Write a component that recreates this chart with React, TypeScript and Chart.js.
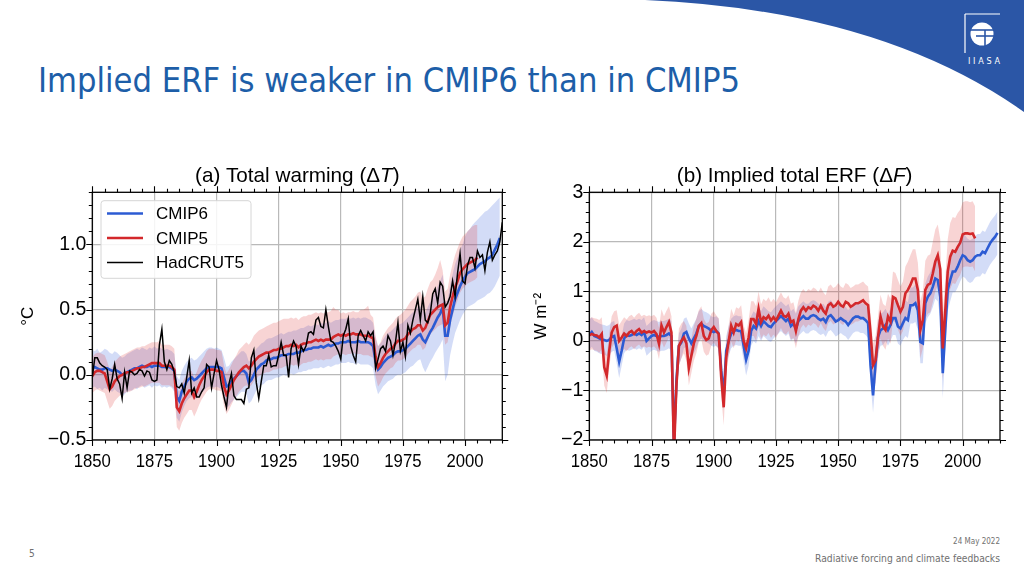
import React, { useEffect, useRef } from "react";
import { Chart, registerables } from "chart.js";

Chart.register(...registerables);

const FONT = "'Liberation Sans', Arial, sans-serif";
Chart.defaults.font.family = FONT;

const FIRST_YEAR = 1850;
const X_MIN = 1850;
const X_MAX = 2015;

// ---------- Panel (a): total warming, °C ----------
const T_CMIP6 = [
  0.05, 0.06, 0.05, 0.04, 0.04, 0.05, 0.05, 0.04, 0.03, 0.04,
  0.03, 0.02, 0.00, 0.01, 0.02, 0.03, 0.04, 0.05, 0.05, 0.06,
  0.07, 0.06, 0.06, 0.07, 0.06, 0.07, 0.07, 0.07, 0.06, 0.06,
  0.06, 0.06, 0.05, 0.03, -0.17, -0.20, -0.13, -0.09, -0.05, -0.03,
  -0.02, -0.04, -0.03, -0.01, 0.01, 0.03, 0.05, 0.06, 0.06, 0.06,
  0.06, 0.06, 0.05, -0.02, -0.09, -0.08, -0.05, -0.03, -0.01, 0.01,
  0.03, 0.03, 0.01, -0.06, -0.04, 0.00, 0.04, 0.06, 0.08, 0.09,
  0.11, 0.12, 0.12, 0.13, 0.13, 0.14, 0.15, 0.15, 0.15, 0.16,
  0.16, 0.16, 0.17, 0.17, 0.18, 0.19, 0.19, 0.20, 0.20, 0.21,
  0.21, 0.21, 0.22, 0.21, 0.22, 0.23, 0.22, 0.23, 0.24, 0.24,
  0.25, 0.25, 0.25, 0.26, 0.25, 0.25, 0.25, 0.26, 0.25, 0.25,
  0.25, 0.25, 0.24, 0.22, 0.10, 0.04, 0.06, 0.09, 0.11, 0.13,
  0.14, 0.15, 0.17, 0.18, 0.18, 0.19, 0.20, 0.22, 0.24, 0.26,
  0.28, 0.30, 0.31, 0.27, 0.25, 0.29, 0.33, 0.36, 0.40, 0.44,
  0.47, 0.52, 0.30, 0.30, 0.42, 0.50, 0.58, 0.63, 0.68, 0.72,
  0.75, 0.78, 0.79, 0.80, 0.81, 0.83, 0.85, 0.86, 0.87, 0.89,
  0.90, 0.92, 0.96, 1.00, 1.05,
];
const T_CMIP6_LO = [
  -0.10, -0.09, -0.11, -0.10, -0.12, -0.10, -0.11, -0.12, -0.13, -0.11,
  -0.13, -0.14, -0.17, -0.15, -0.13, -0.12, -0.12, -0.10, -0.11, -0.09,
  -0.08, -0.10, -0.09, -0.08, -0.10, -0.08, -0.09, -0.08, -0.10, -0.09,
  -0.10, -0.09, -0.10, -0.13, -0.33, -0.36, -0.29, -0.24, -0.20, -0.18,
  -0.17, -0.19, -0.18, -0.16, -0.14, -0.12, -0.10, -0.09, -0.09, -0.10,
  -0.09, -0.10, -0.11, -0.18, -0.25, -0.24, -0.21, -0.19, -0.17, -0.15,
  -0.13, -0.13, -0.15, -0.22, -0.20, -0.16, -0.12, -0.10, -0.08, -0.07,
  -0.05, -0.04, -0.04, -0.03, -0.02, -0.02, -0.01, 0.00, -0.01, 0.00,
  0.01, 0.00, 0.01, 0.02, 0.02, 0.03, 0.03, 0.04, 0.04, 0.05,
  0.05, 0.05, 0.06, 0.05, 0.06, 0.07, 0.06, 0.07, 0.08, 0.08,
  0.09, 0.09, 0.09, 0.10, 0.09, 0.09, 0.08, 0.09, 0.08, 0.08,
  0.08, 0.08, 0.07, 0.05, -0.08, -0.15, -0.12, -0.09, -0.07, -0.05,
  -0.04, -0.03, -0.01, 0.00, 0.00, 0.01, 0.02, 0.04, 0.06, 0.07,
  0.09, 0.11, 0.12, 0.06, 0.02, 0.06, 0.10, 0.13, 0.17, 0.20,
  0.23, 0.27, -0.05, 0.00, 0.15, 0.24, 0.32, 0.37, 0.42, 0.46,
  0.49, 0.52, 0.53, 0.54, 0.55, 0.57, 0.58, 0.59, 0.60, 0.62,
  0.63, 0.65, 0.68, 0.72, 0.76,
];
const T_CMIP6_HI = [
  0.19, 0.18, 0.20, 0.17, 0.18, 0.20, 0.19, 0.17, 0.16, 0.18,
  0.17, 0.15, 0.13, 0.14, 0.16, 0.17, 0.18, 0.19, 0.20, 0.19,
  0.21, 0.20, 0.19, 0.21, 0.20, 0.22, 0.20, 0.21, 0.20, 0.19,
  0.20, 0.19, 0.18, 0.16, -0.01, -0.04, 0.03, 0.07, 0.10, 0.12,
  0.13, 0.11, 0.12, 0.14, 0.16, 0.18, 0.20, 0.21, 0.21, 0.20,
  0.21, 0.20, 0.19, 0.13, 0.06, 0.07, 0.10, 0.12, 0.14, 0.16,
  0.18, 0.18, 0.16, 0.10, 0.12, 0.16, 0.20, 0.22, 0.24, 0.25,
  0.27, 0.28, 0.28, 0.29, 0.30, 0.31, 0.32, 0.31, 0.32, 0.33,
  0.33, 0.34, 0.34, 0.35, 0.36, 0.36, 0.37, 0.38, 0.37, 0.38,
  0.39, 0.38, 0.40, 0.39, 0.40, 0.41, 0.40, 0.41, 0.42, 0.42,
  0.43, 0.43, 0.43, 0.44, 0.43, 0.44, 0.43, 0.44, 0.43, 0.44,
  0.44, 0.43, 0.42, 0.40, 0.28, 0.22, 0.24, 0.27, 0.30, 0.32,
  0.33, 0.35, 0.37, 0.38, 0.39, 0.40, 0.42, 0.44, 0.46, 0.48,
  0.50, 0.52, 0.53, 0.49, 0.47, 0.52, 0.56, 0.60, 0.64, 0.68,
  0.72, 0.77, 0.56, 0.57, 0.69, 0.77, 0.85, 0.90, 0.96, 1.00,
  1.06, 1.10, 1.12, 1.15, 1.17, 1.19, 1.21, 1.23, 1.25, 1.26,
  1.28, 1.30, 1.32, 1.34, 1.36,
];
const T_CMIP5 = [
  -0.01, 0.02, 0.03, 0.03, 0.02, 0.01, -0.05, -0.11, -0.09, -0.05,
  -0.03, -0.01, 0.00, 0.01, 0.02, 0.02, 0.03, 0.04, 0.05, 0.05,
  0.06, 0.06, 0.07, 0.08, 0.09, 0.09, 0.09, 0.09, 0.07, 0.07,
  0.07, 0.07, 0.06, 0.04, -0.25, -0.28, -0.22, -0.18, -0.15, -0.12,
  -0.12, -0.17, -0.13, -0.08, -0.04, -0.01, 0.02, 0.04, 0.04, 0.04,
  0.03, 0.03, 0.02, -0.09, -0.15, -0.12, -0.08, -0.04, -0.01, 0.02,
  0.04, 0.06, 0.07, 0.05, 0.07, 0.10, 0.12, 0.14, 0.15, 0.16,
  0.17, 0.17, 0.18, 0.19, 0.19, 0.20, 0.20, 0.21, 0.22, 0.22,
  0.23, 0.22, 0.23, 0.21, 0.23, 0.24, 0.24, 0.25, 0.25, 0.26,
  0.27, 0.26, 0.27, 0.26, 0.27, 0.27, 0.27, 0.29, 0.30, 0.31,
  0.30, 0.31, 0.30, 0.31, 0.31, 0.32, 0.31, 0.31, 0.31, 0.30,
  0.30, 0.30, 0.29, 0.28, 0.14, 0.06, 0.09, 0.13, 0.16, 0.18,
  0.20, 0.21, 0.24, 0.26, 0.26, 0.27, 0.28, 0.31, 0.33, 0.35,
  0.36, 0.38, 0.38, 0.34, 0.36, 0.41, 0.46, 0.48, 0.50, 0.52,
  0.53, 0.54, 0.38, 0.40, 0.52, 0.60, 0.67, 0.72, 0.78, 0.81,
  0.83, 0.85, 0.86, 0.87, 0.88, 0.90,
];
const T_CMIP5_LO = [
  -0.14, -0.12, -0.11, -0.12, -0.13, -0.14, -0.20, -0.26, -0.24, -0.20,
  -0.18, -0.16, -0.15, -0.14, -0.13, -0.13, -0.12, -0.11, -0.10, -0.10,
  -0.09, -0.09, -0.08, -0.07, -0.06, -0.06, -0.06, -0.06, -0.08, -0.08,
  -0.08, -0.08, -0.09, -0.11, -0.40, -0.43, -0.37, -0.33, -0.30, -0.27,
  -0.27, -0.32, -0.28, -0.23, -0.19, -0.16, -0.13, -0.11, -0.11, -0.11,
  -0.12, -0.12, -0.13, -0.24, -0.30, -0.27, -0.23, -0.19, -0.16, -0.13,
  -0.11, -0.09, -0.08, -0.10, -0.08, -0.05, -0.03, -0.01, 0.00, 0.01,
  0.02, 0.02, 0.03, 0.04, 0.04, 0.05, 0.05, 0.06, 0.07, 0.07,
  0.08, 0.07, 0.08, 0.06, 0.08, 0.09, 0.09, 0.10, 0.10, 0.11,
  0.12, 0.11, 0.12, 0.11, 0.12, 0.12, 0.12, 0.14, 0.15, 0.16,
  0.15, 0.16, 0.15, 0.16, 0.16, 0.17, 0.16, 0.16, 0.16, 0.15,
  0.15, 0.15, 0.14, 0.13, -0.01, -0.09, -0.06, -0.02, 0.01, 0.03,
  0.05, 0.06, 0.09, 0.11, 0.11, 0.12, 0.13, 0.16, 0.18, 0.20,
  0.21, 0.23, 0.23, 0.19, 0.21, 0.26, 0.31, 0.33, 0.35, 0.37,
  0.38, 0.39, 0.23, 0.25, 0.37, 0.45, 0.52, 0.57, 0.63, 0.66,
  0.68, 0.70, 0.71, 0.72, 0.73, 0.75,
];
const T_CMIP5_HI = [
  0.13, 0.16, 0.17, 0.17, 0.16, 0.15, 0.10, 0.04, 0.06, 0.10,
  0.12, 0.14, 0.15, 0.16, 0.17, 0.18, 0.19, 0.20, 0.21, 0.21,
  0.22, 0.22, 0.23, 0.24, 0.25, 0.25, 0.25, 0.26, 0.23, 0.23,
  0.23, 0.23, 0.22, 0.20, -0.10, -0.13, -0.07, -0.03, 0.00, 0.03,
  0.03, -0.02, 0.02, 0.07, 0.11, 0.14, 0.18, 0.20, 0.20, 0.20,
  0.19, 0.19, 0.18, 0.07, 0.01, 0.04, 0.08, 0.12, 0.15, 0.19,
  0.21, 0.23, 0.25, 0.23, 0.26, 0.30, 0.32, 0.34, 0.35, 0.36,
  0.37, 0.38, 0.39, 0.40, 0.40, 0.41, 0.42, 0.43, 0.43, 0.43,
  0.44, 0.43, 0.44, 0.42, 0.44, 0.45, 0.45, 0.46, 0.46, 0.47,
  0.48, 0.47, 0.48, 0.47, 0.48, 0.48, 0.49, 0.52, 0.50, 0.50,
  0.47, 0.48, 0.47, 0.48, 0.48, 0.49, 0.48, 0.48, 0.50, 0.50,
  0.51, 0.53, 0.46, 0.44, 0.30, 0.22, 0.25, 0.30, 0.33, 0.36,
  0.38, 0.40, 0.43, 0.45, 0.46, 0.48, 0.50, 0.53, 0.56, 0.58,
  0.60, 0.63, 0.64, 0.59, 0.60, 0.66, 0.71, 0.73, 0.77, 0.82,
  0.88, 0.80, 0.64, 0.66, 0.77, 0.85, 0.92, 0.97, 1.02, 1.06,
  1.08, 1.10, 1.12, 1.14, 1.15, 1.15,
];
const T_HADCRUT5 = [
  -0.02, 0.13, 0.13, 0.09, 0.07, 0.06, 0.04, -0.11, -0.03, 0.08,
  -0.03, -0.07, -0.18, 0.02, -0.10, 0.03, 0.02, 0.00, 0.01, 0.04,
  0.03, -0.01, 0.03, 0.02, -0.04, -0.05, -0.04, 0.23, 0.35, 0.10,
  0.04, 0.11, 0.08, 0.02, -0.09, -0.10, -0.07, -0.14, -0.02, 0.11,
  -0.14, -0.10, -0.17, -0.17, -0.13, -0.10, 0.08, 0.06, -0.10, 0.01,
  0.11, 0.04, -0.08, -0.17, -0.25, -0.07, 0.01, -0.16, -0.19, -0.19,
  -0.19, -0.22, -0.11, -0.10, 0.13, 0.19, -0.06, -0.18, -0.05, 0.07,
  0.07, 0.15, 0.06, 0.07, 0.07, 0.15, 0.25, 0.15, 0.15, -0.02,
  0.20, 0.26, 0.22, 0.08, 0.22, 0.18, 0.22, 0.32, 0.33, 0.31,
  0.42, 0.44, 0.37, 0.36, 0.50, 0.37, 0.26, 0.25, 0.22, 0.18,
  0.12, 0.30, 0.35, 0.43, 0.22, 0.15, 0.10, 0.30, 0.34, 0.30,
  0.26, 0.33, 0.30, 0.33, 0.05, 0.12, 0.20, 0.22, 0.18, 0.30,
  0.26, 0.15, 0.25, 0.40, 0.18, 0.25, 0.14, 0.38, 0.32, 0.42,
  0.50, 0.58, 0.42, 0.60, 0.42, 0.40, 0.47, 0.62, 0.66, 0.55,
  0.71, 0.68, 0.52, 0.55, 0.60, 0.72, 0.60, 0.78, 0.93, 0.72,
  0.70, 0.84, 0.90, 0.90, 0.82, 0.95, 0.90, 0.92, 0.80, 0.94,
  1.02, 0.88, 0.92, 0.95, 1.02, 1.17,
];

// ---------- Panel (b): implied total ERF, W m-2 ----------
const F_CMIP6 = [
  0.12, 0.18, 0.10, 0.08, 0.05, 0.03, 0.02, 0.00, 0.02, 0.08,
  0.10, -0.15, -0.42, -0.20, 0.05, 0.12, 0.10, 0.12, 0.15, 0.12,
  0.15, 0.12, 0.18, 0.00, 0.05, 0.10, 0.12, 0.10, 0.08, 0.10,
  0.10, 0.12, 0.15, 0.10, -2.10, -0.80, -0.10, -0.03, 0.15, 0.18,
  0.05, -0.05, 0.05, 0.15, 0.30, 0.35, 0.30, 0.28, 0.25, 0.20,
  0.18, 0.20, 0.15, -0.60, -1.10, -0.20, 0.00, 0.15, 0.20, 0.22,
  0.20, 0.20, -0.10, -0.38, -0.20, 0.20, 0.30, 0.25, 0.40, 0.30,
  0.40, 0.35, 0.30, 0.28, 0.35, 0.40, 0.45, 0.50, 0.45, 0.40,
  0.45, 0.30, 0.35, 0.25, 0.40, 0.45, 0.50, 0.45, 0.45, 0.50,
  0.52, 0.50, 0.45, 0.42, 0.45, 0.38, 0.49, 0.52, 0.46, 0.39,
  0.42, 0.46, 0.42, 0.39, 0.32, 0.39, 0.46, 0.49, 0.49, 0.46,
  0.46, 0.42, 0.36, -0.50, -1.10, -0.45, 0.08, 0.22, 0.25, 0.32,
  0.22, 0.32, 0.46, 0.46, 0.29, 0.25, 0.36, 0.46, 0.42, 0.72,
  0.72, 0.76, 0.62, -0.02, -0.05, 0.76, 0.89, 0.96, 1.09, 1.26,
  1.23, 0.89, -0.65, 0.22, 1.03, 1.23, 1.40, 1.40, 1.50, 1.63,
  1.73, 1.70, 1.63, 1.60, 1.63, 1.70, 1.73, 1.73, 1.80, 1.77,
  1.87, 1.97, 2.04, 2.10, 2.18,
];
const F_CMIP6_LO = [
  -0.18, -0.12, -0.20, -0.22, -0.25, -0.27, -0.28, -0.30, -0.28, -0.22,
  -0.20, -0.45, -0.75, -0.50, -0.25, -0.18, -0.20, -0.18, -0.15, -0.18,
  -0.15, -0.18, -0.12, -0.30, -0.25, -0.20, -0.18, -0.20, -0.22, -0.20,
  -0.20, -0.18, -0.15, -0.20, -2.50, -1.30, -0.50, -0.35, -0.15, -0.12,
  -0.25, -0.35, -0.25, -0.15, 0.00, 0.05, 0.00, -0.02, -0.05, -0.10,
  -0.12, -0.10, -0.15, -0.90, -1.40, -0.50, -0.30, -0.15, -0.10, -0.08,
  -0.10, -0.10, -0.40, -0.70, -0.50, -0.10, 0.00, -0.05, 0.10, 0.00,
  0.10, 0.05, 0.00, -0.02, 0.05, 0.10, 0.15, 0.20, 0.15, 0.10,
  0.15, 0.00, 0.05, -0.05, 0.10, 0.15, 0.20, 0.15, 0.15, 0.20,
  0.22, 0.20, 0.15, 0.12, 0.15, 0.08, 0.19, 0.22, 0.16, 0.09,
  0.12, 0.16, 0.12, 0.09, 0.02, 0.09, 0.16, 0.19, 0.19, 0.16,
  0.16, 0.12, 0.06, -0.85, -1.45, -0.80, -0.25, -0.10, -0.08, 0.00,
  -0.10, 0.00, 0.12, 0.12, -0.05, -0.10, 0.02, 0.10, 0.06, 0.35,
  0.35, 0.38, 0.22, -0.45, -0.45, 0.35, 0.48, 0.55, 0.68, 0.85,
  0.80, 0.45, -1.15, -0.25, 0.60, 0.80, 0.98, 0.98, 1.08, 1.20,
  1.30, 1.27, 1.20, 1.17, 1.20, 1.28, 1.30, 1.30, 1.37, 1.34,
  1.44, 1.54, 1.61, 1.67, 1.75,
];
const F_CMIP6_HI = [
  0.42, 0.48, 0.40, 0.38, 0.35, 0.33, 0.32, 0.30, 0.32, 0.38,
  0.40, 0.15, -0.10, 0.10, 0.35, 0.42, 0.40, 0.42, 0.45, 0.42,
  0.45, 0.42, 0.48, 0.30, 0.35, 0.40, 0.42, 0.40, 0.38, 0.40,
  0.40, 0.42, 0.45, 0.40, -1.60, -0.35, 0.15, 0.25, 0.45, 0.48,
  0.35, 0.25, 0.35, 0.45, 0.60, 0.65, 0.60, 0.58, 0.55, 0.50,
  0.48, 0.50, 0.45, -0.30, -0.80, 0.10, 0.30, 0.45, 0.50, 0.52,
  0.50, 0.50, 0.20, -0.08, 0.10, 0.50, 0.60, 0.55, 0.70, 0.60,
  0.70, 0.65, 0.60, 0.58, 0.65, 0.70, 0.75, 0.80, 0.75, 0.70,
  0.75, 0.60, 0.65, 0.55, 0.70, 0.75, 0.80, 0.75, 0.75, 0.80,
  0.82, 0.80, 0.75, 0.72, 0.75, 0.68, 0.79, 0.82, 0.76, 0.69,
  0.72, 0.76, 0.72, 0.69, 0.62, 0.69, 0.76, 0.79, 0.79, 0.76,
  0.76, 0.72, 0.66, -0.15, -0.70, -0.10, 0.40, 0.55, 0.58, 0.65,
  0.55, 0.65, 0.80, 0.80, 0.62, 0.58, 0.70, 0.82, 0.78, 1.08,
  1.08, 1.14, 1.00, 0.40, 0.35, 1.16, 1.30, 1.38, 1.52, 1.68,
  1.66, 1.33, -0.15, 0.70, 1.46, 1.66, 1.82, 1.82, 1.92, 2.06,
  2.16, 2.13, 2.06, 2.03, 2.06, 2.12, 2.16, 2.16, 2.23, 2.20,
  2.30, 2.40, 2.47, 2.53, 2.61,
];
const F_CMIP5 = [
  0.11, 0.14, 0.12, 0.11, 0.07, 0.14, -0.53, -0.70, -0.20, 0.17,
  0.28, 0.31, 0.00, 0.07, 0.15, 0.10, 0.17, 0.20, 0.14, 0.20,
  0.24, 0.17, 0.20, 0.17, 0.19, 0.17, 0.20, 0.14, -0.06, 0.31,
  0.17, 0.28, 0.38, 0.17, -2.30, -0.90, -0.10, 0.00, 0.07, -0.05,
  -0.55, -0.30, -0.05, 0.10, 0.30, 0.36, 0.10, 0.02, 0.05, 0.22,
  0.28, 0.20, 0.14, -0.73, -1.34, -0.33, 0.00, 0.31, 0.17, 0.34,
  0.31, 0.38, 0.00, -0.15, 0.07, 0.44, 0.44, 0.34, 0.65, 0.38,
  0.48, 0.44, 0.51, 0.41, 0.48, 0.41, 0.51, 0.61, 0.51, 0.48,
  0.55, 0.38, 0.41, 0.20, 0.44, 0.61, 0.68, 0.61, 0.68, 0.65,
  0.71, 0.68, 0.61, 0.71, 0.61, 0.55, 0.72, 0.76, 0.69, 0.72,
  0.79, 0.72, 0.69, 0.79, 0.76, 0.69, 0.72, 0.76, 0.76, 0.79,
  0.82, 0.76, 0.72, 0.15, -0.49, -0.39, 0.08, 0.49, 0.29, 0.22,
  0.49, 0.39, 0.89, 0.86, 0.72, 0.59, 0.69, 0.96, 1.03, 1.13,
  1.26, 1.26, 1.03, 0.22, 0.42, 1.03, 1.13, 1.16, 1.36, 1.60,
  1.73, 1.45, -0.15, 0.60, 1.40, 1.70, 1.82, 1.80, 1.90, 1.98,
  2.15, 2.17, 2.17, 2.16, 2.17, 2.07,
];
const F_CMIP5_LO = [
  -0.20, -0.17, -0.19, -0.20, -0.24, -0.17, -0.90, -1.05, -0.55, -0.15,
  -0.05, -0.02, -0.30, -0.24, -0.16, -0.21, -0.14, -0.11, -0.17, -0.11,
  -0.07, -0.14, -0.11, -0.14, -0.12, -0.14, -0.11, -0.17, -0.37, 0.00,
  -0.14, -0.03, 0.07, -0.14, -2.80, -1.40, -0.50, -0.35, -0.25, -0.40,
  -0.90, -0.65, -0.40, -0.25, -0.02, 0.03, -0.22, -0.30, -0.27, -0.10,
  -0.03, -0.11, -0.17, -1.10, -1.70, -0.65, -0.32, -0.01, -0.15, 0.02,
  -0.01, 0.06, -0.30, -0.45, -0.25, 0.10, 0.10, 0.00, 0.30, 0.04,
  0.13, 0.09, 0.16, 0.06, 0.13, 0.06, 0.16, 0.26, 0.16, 0.13,
  0.20, 0.03, 0.06, -0.15, 0.09, 0.26, 0.33, 0.26, 0.33, 0.30,
  0.36, 0.33, 0.26, 0.36, 0.26, 0.20, 0.36, 0.40, 0.33, 0.36,
  0.42, 0.35, 0.32, 0.42, 0.39, 0.32, 0.35, 0.39, 0.39, 0.42,
  0.45, 0.39, 0.35, -0.25, -0.95, -0.85, -0.35, 0.05, -0.10, -0.18,
  0.05, -0.05, 0.40, 0.37, 0.23, 0.10, 0.20, 0.45, 0.50, 0.60,
  0.72, 0.72, 0.50, -0.35, -0.15, 0.45, 0.55, 0.58, 0.78, 1.00,
  1.12, 0.85, -0.80, -0.05, 0.75, 1.05, 1.17, 1.15, 1.25, 1.33,
  1.48, 1.50, 1.50, 1.49, 1.50, 1.40,
];
const F_CMIP5_HI = [
  0.45, 0.48, 0.46, 0.45, 0.42, 0.48, -0.15, -0.30, 0.15, 0.50,
  0.60, 0.62, 0.32, 0.40, 0.48, 0.43, 0.50, 0.53, 0.47, 0.53,
  0.57, 0.50, 0.53, 0.50, 0.52, 0.50, 0.53, 0.47, 0.27, 0.64,
  0.50, 0.61, 0.70, 0.50, -1.80, -0.45, 0.25, 0.35, 0.40, 0.30,
  -0.20, 0.05, 0.30, 0.45, 0.62, 0.70, 0.45, 0.35, 0.38, 0.55,
  0.60, 0.52, 0.46, -0.40, -0.95, 0.00, 0.32, 0.65, 0.52, 0.68,
  0.65, 0.72, 0.32, 0.15, 0.42, 0.80, 0.80, 0.70, 1.00, 0.74,
  0.85, 0.80, 0.88, 0.78, 0.85, 0.78, 0.88, 0.98, 0.88, 0.85,
  0.92, 0.75, 0.78, 0.57, 0.81, 0.98, 1.05, 0.98, 1.05, 1.02,
  1.08, 1.05, 0.98, 1.08, 0.98, 0.92, 1.10, 1.14, 1.07, 1.10,
  1.17, 1.10, 1.07, 1.17, 1.14, 1.07, 1.10, 1.14, 1.14, 1.17,
  1.20, 1.14, 1.10, 0.55, -0.05, 0.10, 0.50, 0.93, 0.75, 0.70,
  0.95, 0.85, 1.40, 1.37, 1.23, 1.10, 1.20, 1.50, 1.60, 1.73,
  1.85, 1.85, 1.58, 0.80, 1.00, 1.62, 1.72, 1.75, 2.00, 2.25,
  2.35, 2.05, 0.50, 1.25, 2.05, 2.38, 2.50, 2.48, 2.58, 2.65,
  2.80, 2.82, 2.82, 2.80, 2.82, 2.72,
];

const LEGEND_ORDER = ["CMIP6", "CMIP5", "HadCRUT5"];

const BLUE = "#2c5bd3";
const RED = "#d3282b";
const BLUE_BAND = "rgba(70,110,220,0.24)";
const RED_BAND = "rgba(222,60,60,0.22)";
const GRID = "#b9b9b9";

const pts = (vals: number[]) => vals.map((v, i) => ({ x: FIRST_YEAR + i, y: v }));

const lineDs = (label: string, vals: number[], color: string, width: number) => ({
  label,
  data: pts(vals),
  borderColor: color,
  borderWidth: width,
  pointRadius: 0,
  fill: false,
  tension: 0,
});
const bandDs = (vals: number[], color: string, fill: any) => ({
  label: "",
  data: pts(vals),
  borderColor: "rgba(0,0,0,0)",
  borderWidth: 1,
  pointRadius: 0,
  backgroundColor: color,
  fill,
  tension: 0,
});

const minus = (s: string) => s.replace("-", "\u2212");

const axesDecor = {
  id: "axesDecor",
  afterDraw(chart: any, _args: any, opts: any) {
    const ctx = chart.ctx as CanvasRenderingContext2D;
    const { left, right, top, bottom } = chart.chartArea;
    const xs = chart.scales.x;
    const ys = chart.scales.y;
    ctx.save();
    ctx.strokeStyle = "#000";
    ctx.lineWidth = 1.1;
    ctx.beginPath();
    const nx = Math.round((X_MAX - X_MIN) / opts.xMinor);
    for (let k = 0; k <= nx; k++) {
      const v = X_MIN + k * opts.xMinor;
      const r = (v - X_MIN) / opts.xMajor;
      const len = Math.abs(r - Math.round(r)) < 1e-6 ? 6 : 3.5;
      const px = Math.round(xs.getPixelForValue(v)) + 0.5;
      ctx.moveTo(px, bottom);
      ctx.lineTo(px, bottom + len);
      ctx.moveTo(px, top);
      ctx.lineTo(px, top - len);
    }
    const ny = Math.round((opts.yMax - opts.yMin) / opts.yMinor);
    for (let k = 0; k <= ny; k++) {
      const v = opts.yMin + k * opts.yMinor;
      const r = v / opts.yMajor;
      const len = Math.abs(r - Math.round(r)) < 1e-6 ? 6 : 3.5;
      const py = Math.round(ys.getPixelForValue(v)) + 0.5;
      ctx.moveTo(left, py);
      ctx.lineTo(left - len, py);
      ctx.moveTo(right, py);
      ctx.lineTo(right + len, py);
    }
    ctx.stroke();
    ctx.lineWidth = 1.3;
    ctx.strokeRect(left, top, right - left, bottom - top);

    // x tick labels, taken from the scale's own ticks (slightly condensed, as in the reference)
    ctx.fillStyle = "#000";
    ctx.textAlign = "center";
    ctx.textBaseline = "alphabetic";
    ctx.font = `19px ${FONT}`;
    for (const t of xs.ticks) {
      const px = xs.getPixelForValue(t.value);
      ctx.save();
      ctx.translate(px, bottom + 26.5);
      ctx.scale(0.88, 1);
      ctx.fillText(String(t.value), 0, 0);
      ctx.restore();
    }

    // title with italic part
    const size = 21;
    const parts = opts.title as { text: string; italic?: boolean }[];
    const fontOf = (p: any) => `${p.italic ? "italic " : ""}${size}px ${FONT}`;
    let total = 0;
    for (const p of parts) {
      ctx.font = fontOf(p);
      total += ctx.measureText(p.text).width;
    }
    let x = -total / 2;
    ctx.save();
    ctx.translate((left + right) / 2, top - 10.5);
    ctx.scale(0.985, 1);
    ctx.textAlign = "left";
    for (const p of parts) {
      ctx.font = fontOf(p);
      ctx.fillText(p.text, x, 0);
      x += ctx.measureText(p.text).width;
    }
    ctx.restore();

    if (opts.legend) {
      const bx = left + 8.7;
      const by = top + 8.4;
      const bw = 150;
      const bh = 77.6;
      ctx.beginPath();
      const rr = 3;
      ctx.moveTo(bx + rr, by);
      ctx.arcTo(bx + bw, by, bx + bw, by + bh, rr);
      ctx.arcTo(bx + bw, by + bh, bx, by + bh, rr);
      ctx.arcTo(bx, by + bh, bx, by, rr);
      ctx.arcTo(bx, by, bx + bw, by, rr);
      ctx.closePath();
      ctx.fillStyle = "rgba(255,255,255,0.85)";
      ctx.fill();
      ctx.strokeStyle = "#d6d6d6";
      ctx.lineWidth = 1;
      ctx.stroke();
      ctx.font = `17px ${FONT}`;
      ctx.textBaseline = "middle";
      ctx.textAlign = "left";
      LEGEND_ORDER.forEach((name, i) => {
        const ds = chart.data.datasets.find((d: any) => d.label === name);
        if (!ds) return;
        const cy = by + 12.8 + i * 24.5;
        ctx.strokeStyle = ds.borderColor;
        ctx.lineWidth = ds.borderWidth;
        ctx.beginPath();
        ctx.moveTo(bx + 6, cy);
        ctx.lineTo(bx + 42, cy);
        ctx.stroke();
        ctx.fillStyle = "#000";
        ctx.fillText(name, bx + 55, cy + 1);
      });
    }
    ctx.restore();
  },
};

function makeConfig(kind: "a" | "b"): any {
  const isA = kind === "a";
  const datasets: any[] = [];
  if (isA) datasets.push(lineDs("HadCRUT5", T_HADCRUT5, "#000", 1.5));
  datasets.push(lineDs("CMIP5", isA ? T_CMIP5 : F_CMIP5, RED, 2.6));
  datasets.push(lineDs("CMIP6", isA ? T_CMIP6 : F_CMIP6, BLUE, 2.6));
  datasets.push(bandDs(isA ? T_CMIP5_HI : F_CMIP5_HI, RED_BAND, "+1"));
  datasets.push(bandDs(isA ? T_CMIP5_LO : F_CMIP5_LO, "rgba(0,0,0,0)", false));
  datasets.push(bandDs(isA ? T_CMIP6_HI : F_CMIP6_HI, BLUE_BAND, "+1"));
  datasets.push(bandDs(isA ? T_CMIP6_LO : F_CMIP6_LO, "rgba(0,0,0,0)", false));

  const yMin = isA ? -0.5 : -2;
  const yMax = isA ? 1.4 : 3;
  const yMajor = isA ? 0.5 : 1;
  const yMinor = isA ? 0.1 : 0.2;
  const yAxisWidth = isA ? 92.3 : 69.3;

  return {
    type: "line",
    data: { datasets },
    plugins: [axesDecor],
    options: {
      responsive: false,
      maintainAspectRatio: false,
      animation: false,
      events: [],
      layout: { padding: { top: 42.3, right: isA ? 17.7 : 24, bottom: 0, left: 0 } },
      plugins: {
        legend: { display: false },
        tooltip: { enabled: false },
        filler: { drawTime: "beforeDatasetsDraw" },
        axesDecor: {
          xMajor: 25,
          xMinor: 5,
          yMin,
          yMax,
          yMajor,
          yMinor,
          legend: isA,
          title: isA
            ? [{ text: "(a) Total warming (\u0394" }, { text: "T", italic: true }, { text: ")" }]
            : [{ text: "(b) Implied total ERF (\u0394" }, { text: "F", italic: true }, { text: ")" }],
        },
      },
      scales: {
        x: {
          type: "linear",
          min: X_MIN,
          max: X_MAX,
          afterFit: (s: any) => {
            s.height = 30;
          },
          border: { display: false },
          grid: { color: GRID, lineWidth: 1.2, drawTicks: false },
          ticks: {
            display: false,
            stepSize: 25,
            includeBounds: false,
            autoSkip: false,
            maxRotation: 0,
            callback: (v: any) => String(v),
          },
        },
        y: {
          type: "linear",
          min: yMin,
          max: yMax,
          afterFit: (s: any) => {
            s.width = yAxisWidth;
          },
          border: { display: false },
          grid: { color: GRID, lineWidth: 1.2, drawTicks: false },
          title: {
            display: true,
            text: isA ? "\u00B0C" : "W m\u207B\u00B2",
            color: "#000",
            font: { size: 17 },
            padding: { top: isA ? 18.4 : 10.9, bottom: 0 },
          },
          ticks: {
            stepSize: yMajor,
            includeBounds: false,
            autoSkip: false,
            padding: 6,
            color: "#000",
            font: { size: 19.5 },
            callback: (v: any) => minus(isA ? Number(v).toFixed(1) : String(Math.round(Number(v)))),
          },
        },
      },
    },
  };
}

function Panel(props: { kind: "a" | "b"; left: number; top: number; width: number; height: number }) {
  const ref = useRef<HTMLCanvasElement>(null);
  useEffect(() => {
    const chart = new Chart(ref.current as HTMLCanvasElement, makeConfig(props.kind));
    return () => chart.destroy();
  }, []);
  return (
    <canvas
      ref={ref}
      width={props.width}
      height={props.height}
      style={{ position: "absolute", left: props.left, top: props.top, width: props.width, height: props.height }}
    />
  );
}

export default function App() {
  return (
    <div style={{ position: "absolute", left: 0, top: 0, width: 1024, height: 576, overflow: "hidden", background: "#fff" }}>
      <svg width={1024} height={576} style={{ position: "absolute", left: 0, top: 0 }}>
        <path d="M 645 0 Q 880 10 1024 112 L 1024 0 Z" fill="#2b56a6" />
        <g stroke="#fff" strokeWidth={1.2} fill="none">
          <line x1={965} y1={14} x2={965} y2={53} />
          <line x1={965} y1={14} x2={1000} y2={14} />
        </g>
        <circle cx={982} cy={34} r={11.5} fill="#fff" />
        <g stroke="#2b56a6" strokeWidth={1.6}>
          <line x1={969} y1={30} x2={996} y2={30} />
          <line x1={976} y1={36} x2={996} y2={36} />
          <line x1={985} y1={30} x2={985} y2={47} />
        </g>
        <text x={968} y={64} fill="#fff" fontFamily="'DejaVu Sans Condensed', 'DejaVu Sans', sans-serif" fontSize={9} textLength={32} lengthAdjust="spacing">
          IIASA
        </text>
        <text
          x={38}
          y={91.5}
          fill="#1d5ea8"
          fontFamily="'DejaVu Sans Condensed', 'DejaVu Sans', sans-serif"
          fontSize={33}
          textLength={702}
          lengthAdjust="spacingAndGlyphs"
        >
          Implied ERF is weaker in CMIP6 than in CMIP5
        </text>
        <text x={29} y={557} fill="#707070" fontFamily="'DejaVu Sans Condensed', 'DejaVu Sans', sans-serif" fontSize={10}>
          5
        </text>
        <text x={1000} y={544} fill="#707070" textAnchor="end" fontFamily="'DejaVu Sans Condensed', 'DejaVu Sans', sans-serif" fontSize={8}>
          24 May 2022
        </text>
        <text
          x={815}
          y={562}
          fill="#707070"
          fontFamily="'DejaVu Sans Condensed', 'DejaVu Sans', sans-serif"
          fontSize={10}
          textLength={185}
          lengthAdjust="spacingAndGlyphs"
        >
          Radiative forcing and climate feedbacks
        </text>
      </svg>
      <Panel kind="a" left={0} top={150} width={520} height={320} />
      <Panel kind="b" left={520} top={150} width={504} height={320} />
    </div>
  );
}
